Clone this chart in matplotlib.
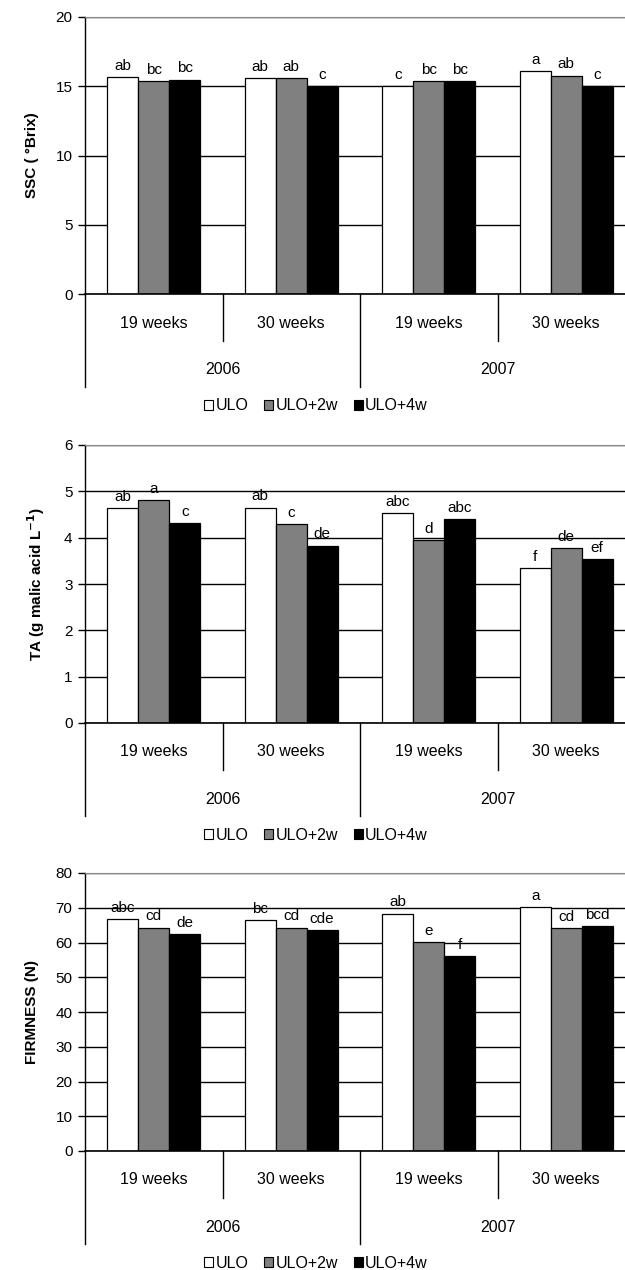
import numpy as np
import matplotlib.pyplot as plt
from matplotlib.transforms import blended_transform_factory
from matplotlib.patches import Patch

plt.rcParams['font.family'] = ['Liberation Sans', 'DejaVu Sans']

weeks = ["19 weeks", "30 weeks", "19 weeks", "30 weeks"]
years = ["2006", "2007"]
treatments = ["ULO", "ULO+2w", "ULO+4w"]
colors = ["white", "#808080", "black"]

# SSC (°Brix), rows = treatment, cols = storage/year group
ssc = [[15.67, 15.6, 15.0, 16.1],
       [15.36, 15.6, 15.35, 15.77],
       [15.48, 15.0, 15.35, 15.0]]
ssc_letters = [["ab", "ab", "c", "a"],
               ["bc", "ab", "bc", "ab"],
               ["bc", "c", "bc", "c"]]

ta = [[4.63, 4.65, 4.53, 3.34],
      [4.82, 4.30, 3.95, 3.78],
      [4.31, 3.83, 4.40, 3.54]]
ta_letters = [["ab", "ab", "abc", "f"],
              ["a", "c", "d", "de"],
              ["c", "de", "abc", "ef"]]

firm = [[66.7, 66.4, 68.3, 70.1],
        [64.3, 64.3, 60.1, 64.1],
        [62.5, 63.6, 56.2, 64.8]]
firm_letters = [["abc", "bc", "ab", "a"],
                ["cd", "cd", "e", "cd"],
                ["de", "cde", "f", "bcd"]]

panels = [
    (ssc, ssc_letters, "SSC ( °Brix)", 20, 5, 17, 294),
    (ta, ta_letters, "TA (g malic acid L$^{\\mathbf{-1}}$)", 6, 1, 445, 723),
    (firm, firm_letters, "FIRMNESS (N)", 80, 10, 873, 1151),
]

W, H = 625, 1270
fig = plt.figure(figsize=(W / 100, H / 100), dpi=100)

x = np.arange(len(weeks))
bw = 0.225
left_px, right_px = 85, 635

for vals, letters, ylabel, ymax, step, ytop, ybot in panels:
    ax = fig.add_axes([left_px / W, (H - ybot) / H,
                       (right_px - left_px) / W, (ybot - ytop) / H])
    ax.set_xlim(-0.5, len(weeks) - 0.5)
    ax.set_ylim(0, ymax)
    ax.set_yticks(np.arange(0, ymax + step / 2, step))
    ax.yaxis.grid(True, color="black", lw=1.0)
    ax.set_axisbelow(True)
    for i in range(3):
        bars = ax.bar(x + (i - 1) * bw, vals[i], bw, color=colors[i],
                      edgecolor="black", lw=0.9, zorder=2)
        for b, lab in zip(bars, letters[i]):
            ax.annotate(lab, (b.get_x() + b.get_width() / 2, b.get_height()),
                        xytext=(0, 3), textcoords="offset points",
                        ha="center", va="bottom", fontsize=11)
    ax.set_xticks([])
    ax.spines["right"].set_visible(False)
    ax.spines["top"].set_color("#888888")
    ax.spines["left"].set_lw(1.0)
    ax.spines["bottom"].set_lw(1.2)
    ax.tick_params(axis="y", direction="out", length=5, width=1, labelsize=11, pad=4)
    ax.set_ylabel(ylabel, fontsize=11, fontweight="bold", labelpad=12)

    # hierarchical category axis below the plot
    tr = blended_transform_factory(ax.transData, fig.transFigure)
    y0 = (H - ybot) / H
    short = 47 / H
    long_ = 93 / H
    for k in [0.5, 2.5]:
        ax.plot([k, k], [y0, y0 - short], color="black", lw=1, transform=tr, clip_on=False)
    for k in [-0.5, 1.5, 3.5]:
        ax.plot([k, k], [y0, y0 - long_], color="black", lw=1, transform=tr, clip_on=False)
    for k, w in enumerate(weeks):
        ax.text(k, y0 - 29 / H, w, transform=tr, ha="center", va="center", fontsize=11.5)
    for k, yr in enumerate(years):
        ax.text(2 * k + 0.5, y0 - 76 / H, yr, transform=tr, ha="center", va="center", fontsize=11.5)

    handles = [Patch(facecolor=c, edgecolor="black", lw=0.8) for c in colors]
    fig.legend(handles, treatments, loc="center", bbox_to_anchor=(316 / W, y0 - 112 / H),
               ncol=3, frameon=False, fontsize=11.5, handlelength=0.55, handleheight=0.6,
               handletextpad=0.15, columnspacing=1.0)

fig.savefig("out.png", dpi=100)
